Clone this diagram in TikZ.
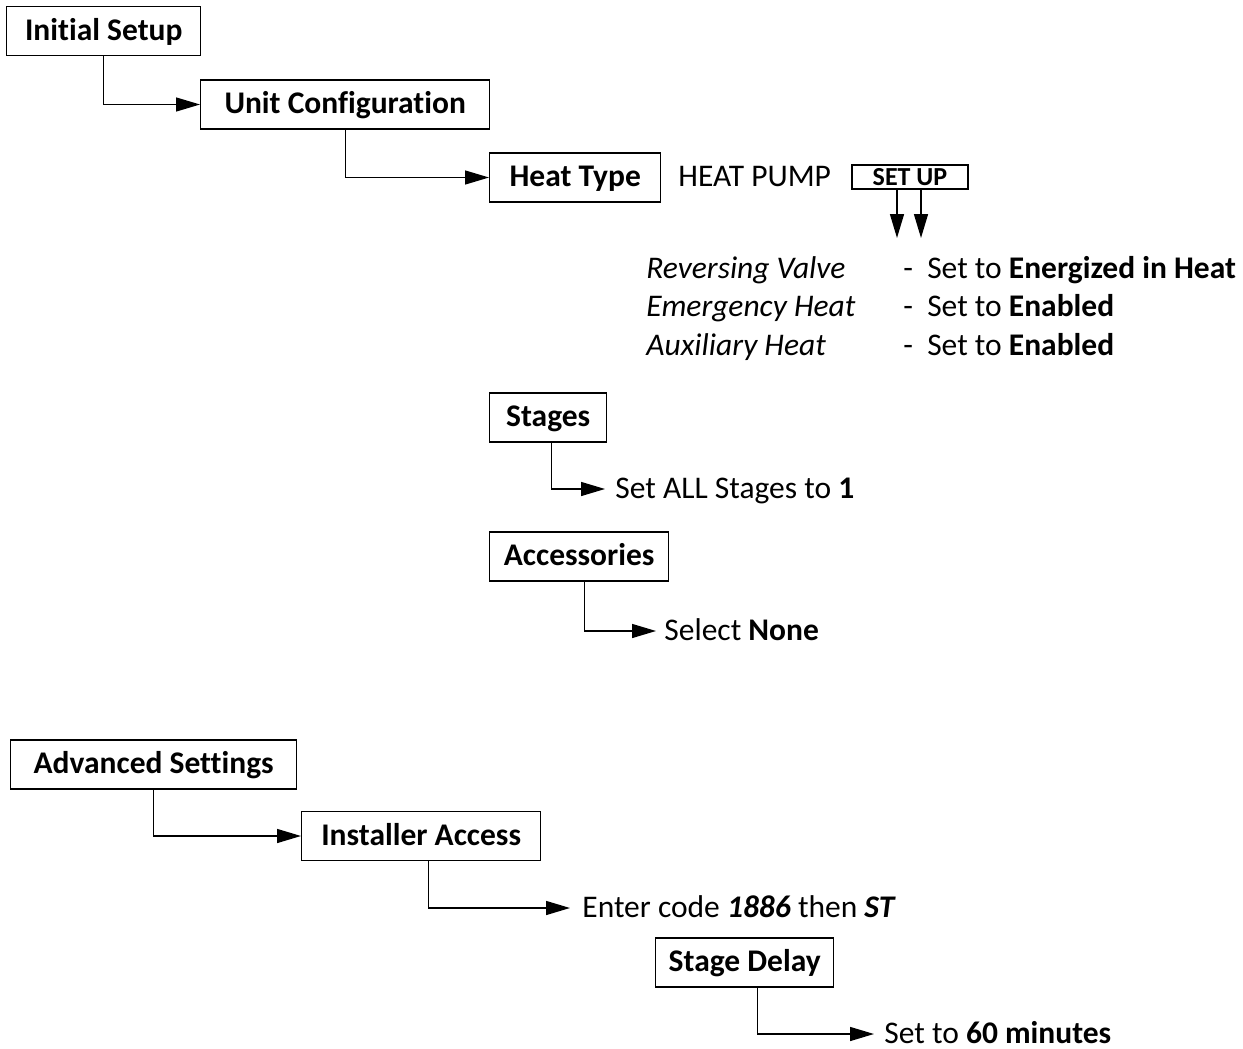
\documentclass[tikz,border=0pt]{standalone}
\usepackage{fontspec}
\setmainfont{Carlito}[Ligatures=NoCommon]
\usetikzlibrary{arrows.meta}

\begin{document}
\begin{tikzpicture}[x=0.5pt,y=-0.5pt,
    font=\fontsize{15.75}{19}\selectfont,
    menu/.style={draw=black,line width=0.7pt,font=\fontsize{15.75}{19}\selectfont\bfseries,
      minimum width=#1*0.5pt,minimum height=24.5pt,inner sep=0pt,anchor=west,
      text height=1.1em,text depth=0.2em},
    txt/.style={inner ysep=0pt,inner xsep=5pt,anchor=west,text height=1.1em,text depth=0.2em},
    conn/.style={line width=0.7pt,-{Triangle[length=12pt,width=7pt]}},
    down/.style={line width=0.7pt,-{Triangle[length=12pt,width=7pt]}}]

  \useasboundingbox (0,0) rectangle (1243,1049);

  % unit configuration part
  \node[menu=194] (init) at (6,31) {Initial Setup};
  \node[menu=289] (unit) at (200,104.5) {Unit Configuration};
  \node[menu=171] (heat) at (489,177.5) {Heat Type};
  \node[txt] (pump) at (668,177.5) {HEAT PUMP};
  \node[draw=black,line width=0.7pt,minimum width=58pt,minimum height=12pt,inner sep=0pt,
    text height=0.95em,text depth=0.15em,
    font=\fontsize{13}{15}\selectfont\bfseries] (setup) at (910,177) {SET UP};

  \draw[conn] (init.south) |- (unit.west);
  \draw[conn] (unit.south) |- (heat.west);

  \coordinate (d1) at (897,238);
  \coordinate (d2) at (921,238);
  \draw[down] (setup.south -| d1) -- (d1);
  \draw[down] (setup.south -| d2) -- (d2);

  % heat pump settings
  \foreach [count=\n] \a/\b/\y in {Reversing Valve/Energized in Heat/269,
      Emergency Heat/Enabled/307.5, Auxiliary Heat/Enabled/346} {
    \node[txt,inner xsep=0pt] (opt\n) at (646,\y) {\itshape \a};
    \node[txt,inner xsep=0pt] (val\n) at (903,\y) {-\ \ Set to \textbf{\b}};
  };

  \node[menu=117] (stg) at (489,417.5) {Stages};
  \node[txt] (stgset) at (605,489) {Set ALL Stages to \textbf{1}};
  \draw[conn] ([xshift=1.75pt]stg.south) |- (stgset.west);

  \node[menu=179] (acc) at (489,556.5) {Accessories};
  \node[txt,inner xsep=4pt] (accset) at (656,631) {Select \textbf{None}};
  \draw[conn] ([xshift=2.75pt]acc.south) |- (accset.west);

  % advanced settings part
  \node[menu=286] (adv) at (10,764.5) {Advanced Settings};
  \node[menu=239] (inst) at (301,836) {Installer Access};
  \draw[conn] (adv.south) |- (inst.west);

  \node[txt,inner xsep=6pt] (code) at (570,908) {Enter code \textbf{\itshape 1886} then \textbf{\itshape ST}};
  \draw[conn] ([xshift=3.75pt]inst.south) |- (code.west);

  \node[menu=178] (delay) at (655,962.5) {Stage Delay};
  \node[txt] (delayset) at (874,1034) {Set to \textbf{60 minutes}};
  \draw[conn] ([xshift=6.5pt]delay.south) |- (delayset.west);

\end{tikzpicture}
\end{document}
